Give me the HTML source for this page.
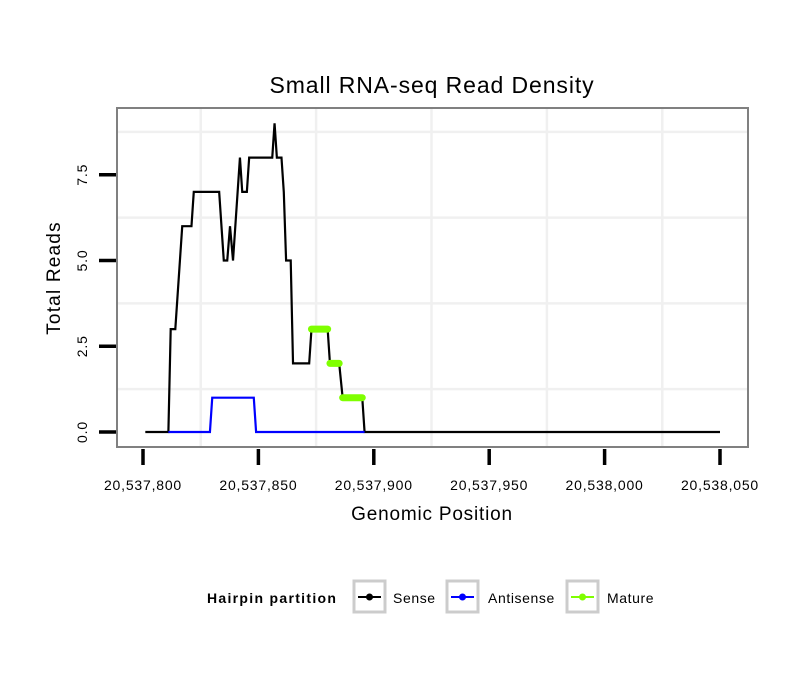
<!DOCTYPE html>
<html><head><meta charset="utf-8"><style>
body{margin:0;background:#fff}
svg text{font-family:"Liberation Sans",sans-serif}
</style></head><body>
<svg id="chart" width="810" height="690" xmlns="http://www.w3.org/2000/svg">
<rect width="810" height="690" fill="#fff"/>
<text x="432" y="93" font-size="23" letter-spacing="0.9" text-anchor="middle">Small RNA-seq Read Density</text>
<g id="grid"></g>
<g id="series"></g>
<rect x="117" y="108" width="631" height="339" fill="none" stroke="#808080" stroke-width="2"/>
<g id="axes"></g>
<text x="432" y="520" font-size="19" letter-spacing="0.8" text-anchor="middle">Genomic Position</text>
<text transform="translate(60,278) rotate(-90)" font-size="19" letter-spacing="1.2" text-anchor="middle">Total Reads</text>
<g>
<text x="207" y="603" font-size="14" letter-spacing="1.3" font-weight="bold">Hairpin partition</text>
<g><rect x="354" y="581" width="31" height="31" fill="#fff" stroke="#ccc" stroke-width="3"/><line x1="358" y1="597" x2="381" y2="597" stroke="#000" stroke-width="2"/><circle cx="369.5" cy="597" r="3.5" fill="#000"/><text x="393" y="603" font-size="14" letter-spacing="0.6">Sense</text></g>
<g><rect x="447" y="581" width="31" height="31" fill="#fff" stroke="#ccc" stroke-width="3"/><line x1="451" y1="597" x2="474" y2="597" stroke="#0000ff" stroke-width="2"/><circle cx="462.5" cy="597" r="3.5" fill="#0000ff"/><text x="488" y="603" font-size="14" letter-spacing="0.6">Antisense</text></g>
<g><rect x="567" y="581" width="31" height="31" fill="#fff" stroke="#ccc" stroke-width="3"/><line x1="571" y1="597" x2="594" y2="597" stroke="#7fff00" stroke-width="2"/><circle cx="582.5" cy="597" r="3.5" fill="#7fff00"/><text x="607" y="603" font-size="14" letter-spacing="0.6">Mature</text></g>
</g>
</svg>
<script>
const xTicks=[20537800,20537850,20537900,20537950,20538000,20538050];
const xTickLabels=["20,537,800","20,537,850","20,537,900","20,537,950","20,538,000","20,538,050"];
const yTicks=[0,2.5,5,7.5];
const yTickLabels=["0.0","2.5","5.0","7.5"];
const senseX=[20537801,20537811,20537812,20537814,20537817,20537821,20537822,20537833,20537835,20537836.5,20537837.7,20537839,20537842,20537843,20537845,20537846,20537856,20537857,20537858,20537860,20537861,20537862,20537864,20537865,20537872,20537873,20537880,20537881,20537885,20537886.5,20537895,20537896,20538050];
const senseY=[0,0,3,3,6,6,7,7,5,5,6,5,8,7,7,8,8,9,8,8,7,5,5,2,2,3,3,2,2,1,1,0,0];
const antiX=[20537811,20537829,20537830,20537848,20537849,20537896];
const antiY=[0,0,1,1,0,0];
const matureStart=[20537873,20537881,20537886.5];
const matureEnd=[20537880,20537885,20537895];
const matureY=[3,2,1];

const NS="http://www.w3.org/2000/svg";
const sx=v=>143+(v-20537800)*2.308;
const sy=v=>432-v*34.3;
function mk(tag,attrs,parent){const e=document.createElementNS(NS,tag);for(const k in attrs)e.setAttribute(k,attrs[k]);parent.appendChild(e);return e;}
const grid=document.getElementById('grid'),series=document.getElementById('series'),axes=document.getElementById('axes');
for(let i=0;i<xTicks.length-1;i++){const v=(xTicks[i]+xTicks[i+1])/2;
 const l=mk('line',{x1:sx(v),x2:sx(v),y1:109,y2:446,stroke:'#f0f0f0','stroke-width':2.5},grid);
 
 }
for(let i=0;i<yTicks.length;i++){const v=yTicks[i]+1.25;
 const l=mk('line',{x1:118,x2:747,y1:sy(v),y2:sy(v),stroke:'#f0f0f0','stroke-width':2.5},grid);
 
 }
xTicks.forEach((v,i)=>{
 const t=mk('line',{x1:sx(v),x2:sx(v),y1:449,y2:465,stroke:'#000','stroke-width':3.5},axes);
 
 
 const tx=mk('text',{x:sx(v),y:490,'font-size':14,'letter-spacing':0.8,'text-anchor':'middle'},axes);tx.textContent=xTickLabels[i];
 
 });
yTicks.forEach((v,i)=>{
 const t=mk('line',{x1:99,x2:116,y1:sy(v),y2:sy(v),stroke:'#000','stroke-width':3.5},axes);
 
 
 const tx=mk('text',{transform:`translate(87,${sy(v)}) rotate(-90)`,'font-size':14,'letter-spacing':0.8,'text-anchor':'middle'},axes);tx.textContent=yTickLabels[i];
 
 });
const sp=mk('polyline',{points:senseX.map((x,i)=>sx(x)+','+sy(senseY[i])).join(' '),fill:'none',stroke:'#000','stroke-width':2.2},series);


const ap=mk('polyline',{points:antiX.map((x,i)=>sx(x)+','+sy(antiY[i])).join(' '),fill:'none',stroke:'#0000ff','stroke-width':2.2},series);


matureY.forEach((y,i)=>{
 const m=mk('line',{x1:sx(matureStart[i]),x2:sx(matureEnd[i]),y1:sy(y),y2:sy(y),stroke:'#7fff00','stroke-width':7,'stroke-linecap':'round'},series);
 
 });
</script>
</body></html>
